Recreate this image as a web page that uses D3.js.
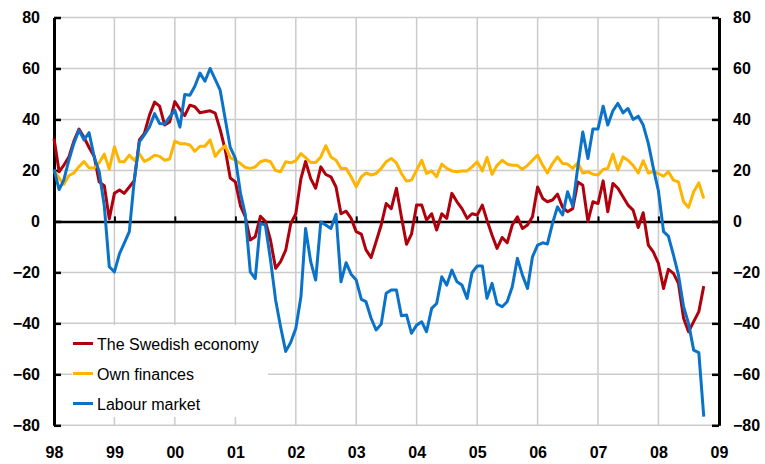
<!DOCTYPE html>
<html>
<head>
<meta charset="utf-8">
<script src="https://cdn.jsdelivr.net/npm/d3@7"></script>
<style>
  body { margin: 0; background: #fff; }
  text { font-family: Arial, "Liberation Sans", sans-serif; }
</style>
</head>
<body>
<div id="chart"></div>
<script>
const canvas_w  =   765;
const canvas_h  =   464;
const margin    =   { top: 17.5, right: 46, bottom: 38.7, left: 54 };

// monthly series, Jan 1998 - Oct 2008
const first_month = new Date( 1998, 0, 1 );

const swedish_economy = [
    32.5, 19.5, 22, 25.3, 31.5, 36.2, 33, 29, 25.5, 15.5, 14, 1,
    11, 12.3, 11, 13.5, 16, 32, 34.5, 41.7, 46.8, 45.2, 37.8, 39,
    47, 44, 41.5, 45.6, 45, 42.6, 43, 43.4, 42.5, 36, 28, 17,
    15.5, 6, 2, -7.3, -6, 2, 0, -7.3, -18.4, -15.8, -11.3, -1,
    3, 16.8, 23.5, 16.8, 13, 21.4, 18.4, 17.5, 13.5, 3, 4, 1.2,
    -4, -5, -11.2, -14.2, -8, -1.4, 7, 5, 13, 1.8, -9, -5,
    6.4, 6.4, 0.5, 3, -3.4, 3, 1.2, 11, 7.7, 5, 1.2, 3,
    2.5, 6.4, 0.5, -5.4, -10.6, -6.3, -8.4, -1.4, 1.8, -2.8, -1.4, 1.8,
    13.5, 9, 7.7, 8.4, 10.7, 5.5, 3.8, 5, 15.5, 14.2, 0, 7.7,
    7, 15.9, 3.8, 14.9, 13, 9.7, 6.4, 4.4, -2.4, 3.4, -9.3, -12,
    -16.5, -26.3, -18.8, -20.4, -24.3, -38, -43.3, -39.3, -35.4, -25.4
];

const own_finances = [
    20, 17, 14.5, 18, 19, 21.5, 23.5, 21, 21, 23, 26.4, 20.5,
    29.3, 23.4, 23.4, 26, 24, 26.5, 23.5, 24.5, 26, 25.5, 24, 24.5,
    31.5, 30.5, 30.5, 30, 27.5, 29.5, 29.5, 32, 25.5, 28, 29.7, 25,
    24, 22.7, 21.2, 20.8, 21.4, 23.4, 24, 23.4, 20, 19.5, 23.4, 23,
    23.8, 26.6, 25, 23.1, 23.1, 25.3, 29.7, 25.3, 24, 20.8, 20.8, 17.5,
    13.6, 17.5, 19, 18.2, 18.8, 20.8, 23.4, 24.7, 23, 18.8, 15.8, 16.2,
    20.1, 24, 18.8, 19.8, 17.5, 22.5, 20.8, 19.8, 19.5, 19.8, 19.8, 21.4,
    23.4, 19.8, 25.1, 18.5, 22, 24, 22.5, 22, 22, 20.4, 22, 24,
    26, 22, 19, 22.7, 25.3, 22.7, 22.5, 20.8, 23, 19, 19.5, 18.5,
    18.2, 20.4, 20.8, 26.4, 20.1, 25.3, 24, 22, 19, 23.8, 19, 19.5,
    18.8, 17.7, 19.5, 16.2, 15.5, 7.7, 5.5, 11.6, 15.1, 9
];

const labour_market = [
    20.4, 12.5, 16.2, 24, 30.6, 35.8, 32, 34.8, 25.3, 19.5, 6, -17.8,
    -19.8, -12.6, -8.6, -4, 16.2, 31.2, 33.9, 37.1, 42.3, 38.4, 38.2, 41,
    43.6, 37, 49.8, 49.5, 53, 58.2, 55, 60, 55.7, 51.5, 40, 29,
    24.7, 11, 3, -19.8, -22.4, -0.8, -1.4, -15, -30.8, -41.3, -51, -47.5,
    -42, -29.6, -2.8, -15.8, -23, -0.2, -1.4, -2.8, 2.8, -23.7, -16.2, -20.7,
    -23, -30.6, -31.5, -38, -42.6, -40.3, -28.2, -26.9, -26.9, -37, -36.7, -43.9,
    -40.7, -39.4, -43.3, -34.1, -32.2, -21.7, -25, -19.1, -23.7, -25, -30.2, -20.1,
    -17.5, -17.5, -30.2, -24.3, -32.4, -33.5, -31.5, -25.6, -14.5, -21, -26.3, -13.9,
    -9.3, -8.4, -8.9, -0.8, 5.7, 2.5, 11.6, 6, 21.4, 35.1, 24.7, 36.3,
    36.3, 45.2, 37.8, 43.4, 46.3, 42.6, 44.3, 40, 41.3, 37.8, 30.6, 21,
    12, -4, -5.8, -13.2, -21, -33.5, -40, -50.5, -51.5, -76.6
];

const series_names  = [ 'The Swedish economy', 'Own finances', 'Labour market' ];
const series_colors = [ '#b0000c', '#ffb400', '#0a72c8' ];
const series_values = [ swedish_economy, own_finances, labour_market ];

const y_ticks    = [ -80, -60, -40, -20, 0, 20, 40, 60, 80 ];
const year_ticks = [ 1998, 1999, 2000, 2001, 2002, 2003, 2004, 2005, 2006, 2007, 2008, 2009 ];

const months = swedish_economy.map( ( d, i ) => d3.timeMonth.offset( first_month, i ) );
const years  = year_ticks.map( y => new Date( y, 0, 1 ) );

let x = d3.scaleTime()
          .domain( [ years[0], years[ years.length - 1 ] ] )
          .range( [ margin.left, canvas_w - margin.right ] );

let y = d3.scaleLinear()
          .domain( [ -80, 80 ] )
          .range( [ canvas_h - margin.bottom, margin.top ] );

let svg = d3.select( '#chart' )
            .append( 'svg' )
            .attr( 'width', canvas_w )
            .attr( 'height', canvas_h );

svg.append( 'rect' )
   .attr( 'width', canvas_w )
   .attr( 'height', canvas_h )
   .attr( 'fill', '#fff' );

// grid
svg.append( 'g' )
   .selectAll( 'line' )
   .data( y_ticks.filter( d => d !== 0 ) )
   .enter()
   .append( 'line' )
   .attr( 'x1', x.range()[0] )
   .attr( 'x2', x.range()[1] )
   .attr( 'y1', d => y( d ) )
   .attr( 'y2', d => y( d ) )
   .attr( 'stroke', '#cbcbcb' )
   .attr( 'stroke-width', 1.5 );

svg.append( 'g' )
   .selectAll( 'line' )
   .data( years.slice( 1, -1 ) )
   .enter()
   .append( 'line' )
   .attr( 'x1', d => x( d ) )
   .attr( 'x2', d => x( d ) )
   .attr( 'y1', y( 80 ) )
   .attr( 'y2', y( -80 ) )
   .attr( 'stroke', '#cbcbcb' )
   .attr( 'stroke-width', 1.5 );

// zero line with year ticks
let zero_axis = svg.append( 'g' )
   .attr( 'transform', `translate(0,${ y( 0 ) })` )
   .call( d3.axisBottom( x ).tickValues( years ).tickSizeInner( -5 ).tickSizeOuter( 0 ).tickFormat( '' ) );
zero_axis.select( '.domain' ).attr( 'stroke', '#000' ).attr( 'stroke-width', 2.5 );
zero_axis.selectAll( '.tick line' ).attr( 'stroke', '#000' ).attr( 'stroke-width', 2 );

// year labels
let x_axis = svg.append( 'g' )
   .attr( 'transform', `translate(0,${ y( -80 ) })` )
   .call( d3.axisBottom( x ).tickValues( years ).tickSize( 0 ).tickPadding( 21 ).tickFormat( d3.timeFormat( '%y' ) ) );
x_axis.select( '.domain' ).remove();

// left and right value axes
let left_axis = svg.append( 'g' )
   .attr( 'transform', `translate(${ margin.left },0)` )
   .call( d3.axisLeft( y ).tickValues( y_ticks ).tickSizeInner( -7 ).tickSizeOuter( 0 ).tickPadding( 14 ) );

let right_axis = svg.append( 'g' )
   .attr( 'transform', `translate(${ canvas_w - margin.right },0)` )
   .call( d3.axisRight( y ).tickValues( y_ticks ).tickSizeInner( -7 ).tickSizeOuter( 0 ).tickPadding( 14 ) );

[ x_axis, left_axis, right_axis ].forEach( function ( a ) {
    a.selectAll( 'text' )
     .attr( 'font-size', 16 )
     .attr( 'font-weight', 'bold' )
     .attr( 'font-family', 'Arial, "Liberation Sans", sans-serif' )
     .attr( 'fill', '#000' );
} );
[ left_axis, right_axis ].forEach( function ( a ) {
    a.select( '.domain' ).attr( 'stroke', '#000' ).attr( 'stroke-width', 3 );
    a.selectAll( '.tick line' ).attr( 'stroke', '#000' ).attr( 'stroke-width', 2.5 );
} );

// series lines
let line = d3.line()
             .x( ( d, i ) => x( months[ i ] ) )
             .y( d => y( d ) );

svg.append( 'g' )
   .selectAll( 'path' )
   .data( series_values )
   .enter()
   .append( 'path' )
   .attr( 'd', line )
   .attr( 'fill', 'none' )
   .attr( 'stroke', ( d, i ) => series_colors[ i ] )
   .attr( 'stroke-width', 3 )
   .attr( 'stroke-linejoin', 'round' );

// legend
let legend = svg.append( 'g' );

legend.append( 'rect' )
      .attr( 'x', 72 )
      .attr( 'y', 325 )
      .attr( 'width', 196 )
      .attr( 'height', 92 )
      .attr( 'fill', '#fff' );

let items = legend.selectAll( 'g' )
      .data( series_names )
      .enter()
      .append( 'g' )
      .attr( 'transform', ( d, i ) => `translate(73,${ 343.5 + i * 30 })` );

items.append( 'line' )
     .attr( 'x1', 0 )
     .attr( 'x2', 20 )
     .attr( 'stroke', ( d, i ) => series_colors[ i ] )
     .attr( 'stroke-width', 3 );

items.append( 'text' )
     .attr( 'x', 24 )
     .attr( 'y', 6 )
     .attr( 'font-size', 16 )
     .attr( 'fill', '#000' )
     .text( d => d );
</script>
</body>
</html>
